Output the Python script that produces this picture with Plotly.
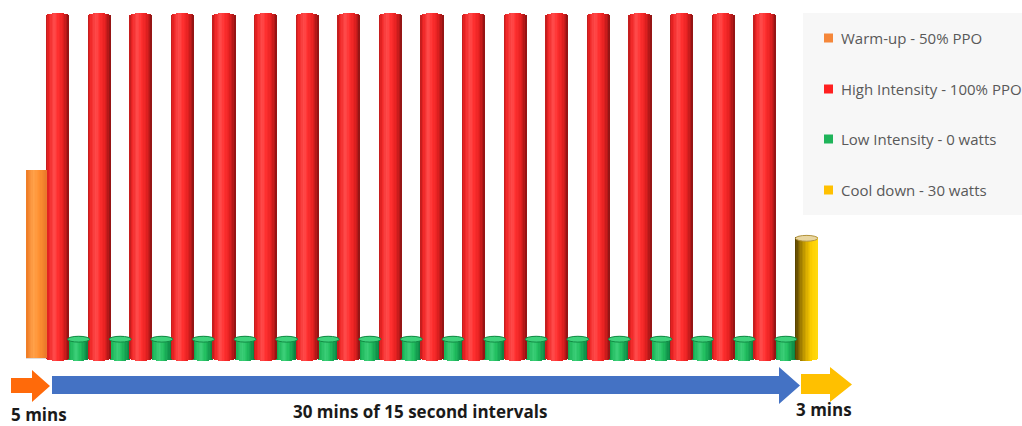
import math
import plotly.graph_objects as go

# ---- data -------------------------------------------------------------
series_names = [
    "Warm-up - 50% PPO",
    "High Intensity - 100% PPO",
    "Low Intensity - 0 watts",
    "Cool down - 30 watts",
]
swatch_colors = ["#f5873a", "#ff2020", "#1fb45a", "#ffc000"]

warmup_value = [55]
high_values = [100, 100, 100, 100, 100, 100, 100, 100, 100,
               100, 100, 100, 100, 100, 100, 100, 100, 100]
low_values = [5.5, 5.5, 5.5, 5.5, 5.5, 5.5, 5.5, 5.5, 5.5,
              5.5, 5.5, 5.5, 5.5, 5.5, 5.5, 5.5, 5.5, 5.5]
cooldown_value = [35]

phase_labels = ["5 mins", "30 mins of 15 second intervals", "3 mins"]

# session order: warm-up, 18 work/rest pairs, cool-down
intervals = ["Warm-up"]
for k in range(len(high_values)):
    intervals += [f"High {k + 1}", f"Low {k + 1}"]
intervals.append("Cool down")

warmup_x = [intervals.index("Warm-up")]
high_x = [intervals.index(f"High {k + 1}") for k in range(len(high_values))]
low_x = [intervals.index(f"Low {k + 1}") for k in range(len(low_values))]
cooldown_x = [intervals.index("Cool down")]

# ---- page geometry ----------------------------------------------------
W, H = 1022, 426
ML, MR, MT, MB = 26, 204, 10, 63
PW, PH = W - ML - MR, H - MT - MB
Y_RANGE = [-1.462, 101.754]
X_RANGE = [-0.529, 37.548]


def px(x):
    return (x - ML) / PW


def py(y):
    return (H - MB - y) / PH


def hex_rgb(c):
    c = c.lstrip("#")
    return tuple(int(c[i:i + 2], 16) for i in (0, 2, 4))


def blend(stops, u):
    for (u0, c0), (u1, c1) in zip(stops, stops[1:]):
        if u0 <= u <= u1:
            t = 0 if u1 == u0 else (u - u0) / (u1 - u0)
            a, b = hex_rgb(c0), hex_rgb(c1)
            return "rgb(%d,%d,%d)" % tuple(round(a[i] + (b[i] - a[i]) * t) for i in range(3))
    return stops[-1][1]


fig = go.Figure()

N_STRIPS = 16


def cylinder(xs, values, width, stops, cap, name):
    """Shaded column drawn as vertical strips with rounded ends."""
    for j in range(N_STRIPS):
        u0, u1 = j / N_STRIPS, (j + 1) / N_STRIPS
        uc = (u0 + u1) / 2
        round_end = cap * math.sqrt(max(0.0, 1 - (2 * uc - 1) ** 2))
        fig.add_trace(go.Bar(
            x=xs,
            y=[v + 2 * round_end for v in values],
            base=[-round_end] * len(values),
            offset=-width / 2 + u0 * width,
            width=width / N_STRIPS + 0.004,
            marker=dict(color=blend(stops, uc), line=dict(width=0)),
            name=name,
            showlegend=False,
            hoverinfo="skip",
        ))


orange_stops = [(0, "#ee7a24"), (0.35, "#ffa24a"), (0.6, "#ff9232"), (1, "#e9782a")]
red_stops = [(0, "#b81c1c"), (0.12, "#ee2424"), (0.36, "#ff4c4c"), (0.52, "#ff3030"),
             (0.74, "#e82222"), (0.9, "#b81818"), (1, "#861414")]
green_stops = [(0, "#0f8a42"), (0.15, "#1cb65a"), (0.4, "#3ccf78"), (0.6, "#22bf60"),
               (0.85, "#10924a"), (1, "#0a6c34")]
yellow_stops = [(0, "#4e3c00"), (0.2, "#8c6c00"), (0.5, "#d8ac00"), (0.75, "#ffd000"),
                (1, "#ffda10")]

CAP = 0.85  # ellipse half-height of the column ends, in y units

cylinder(low_x, low_values, 1.06, green_stops, CAP, series_names[2])
cylinder(high_x, high_values, 1.08, red_stops, CAP, series_names[1])
cylinder(warmup_x, warmup_value, 0.98, orange_stops, 0.0, series_names[0])
cylinder(cooldown_x, cooldown_value, 1.08, yellow_stops, CAP, series_names[3])

shapes = []

# top faces of the short columns
for xs, vals, w, fill, rim in [
    (low_x, low_values, 1.06, "#3fd27c", "#138a45"),
    (cooldown_x, cooldown_value, 1.08, "#e9d6a0", "#b39442"),
]:
    for x, v in zip(xs, vals):
        shapes.append(dict(type="circle", xref="x", yref="y",
                           x0=x - w / 2, x1=x + w / 2, y0=v - CAP, y1=v + CAP,
                           fillcolor=fill, line=dict(color=rim, width=1), layer="above"))

# floor line
shapes.append(dict(type="line", xref="x", yref="y", x0=-0.6, x1=37.6, y0=0, y1=0,
                   line=dict(color="#dcdcdc", width=2), layer="below"))

# legend panel
shapes.append(dict(type="rect", xref="paper", yref="paper",
                   x0=px(803), x1=px(1030), y0=py(215), y1=py(13),
                   fillcolor="#f7f7f7", line=dict(width=0), layer="below"))

annotations = []
legend_rows = [38, 89, 139, 190]
for name, color, yrow in zip(series_names, swatch_colors, legend_rows):
    shapes.append(dict(type="rect", xref="paper", yref="paper",
                       x0=px(824), x1=px(833), y0=py(yrow + 4.5), y1=py(yrow - 4.5),
                       fillcolor=color, line=dict(width=0)))
    annotations.append(dict(text=name, xref="paper", yref="paper", x=px(839), y=py(yrow),
                            xanchor="left", yanchor="middle", showarrow=False,
                            font=dict(family="Open Sans", size=15, color="#595959")))


# timeline arrows under the columns
def arrow(x0, x_head, x_tip, y_top, y_bot, head_top, head_bot, color):
    yc = (head_top + head_bot) / 2
    pts = [(x0, y_top), (x_head, y_top), (x_head, head_top), (x_tip, yc),
           (x_head, head_bot), (x_head, y_bot), (x0, y_bot)]
    path = "M " + " L ".join(f"{px(a):.5f},{py(b):.5f}" for a, b in pts) + " Z"
    return dict(type="path", xref="paper", yref="paper", path=path,
                fillcolor=color, line=dict(width=0))


shapes.append(arrow(11, 32, 50, 378, 393, 370, 402, "#ff6a0a"))
shapes.append(arrow(52, 779, 800, 376, 394, 367, 404, "#4472c4"))
shapes.append(arrow(801, 830, 852, 374, 394, 367, 402, "#ffc000"))

label_font = dict(family="Open Sans", size=17, color="#1a1a1a", weight="bold")
for text, xc, yc in zip(phase_labels, [39, 420, 824], [414, 411, 409]):
    annotations.append(dict(text=f"<b>{text}</b>", xref="paper", yref="paper",
                            x=px(xc), y=py(yc), xanchor="center", yanchor="middle",
                            showarrow=False, font=label_font))

fig.update_layout(
    width=W, height=H,
    margin=dict(l=ML, r=MR, t=MT, b=MB),
    paper_bgcolor="white", plot_bgcolor="white",
    barmode="overlay", bargap=0,
    showlegend=False,
    xaxis=dict(range=X_RANGE, visible=False, fixedrange=True),
    yaxis=dict(range=Y_RANGE, visible=False, fixedrange=True),
    shapes=shapes,
    annotations=annotations,
)

fig.write_html("out.html", config={"displayModeBar": False})
